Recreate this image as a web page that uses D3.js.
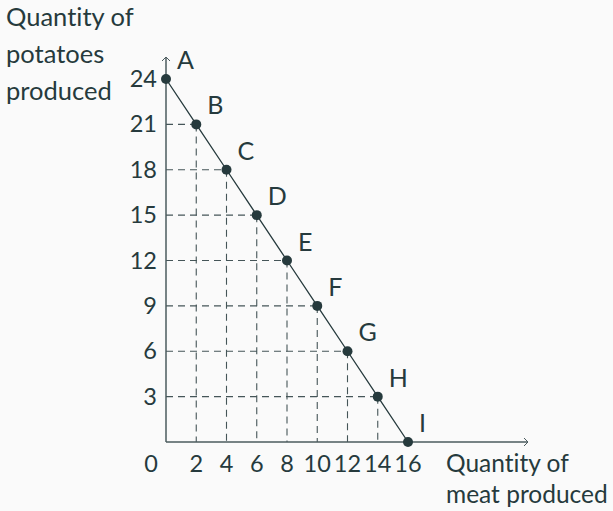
<!DOCTYPE html>
<html>
<head>
<meta charset="utf-8">
<script src="https://cdn.jsdelivr.net/npm/d3@7"></script>
<style>
  html, body { margin: 0; padding: 0; background: #fafafa; }
  svg { display: block; }
  text { font-family: Lato, "DejaVu Sans", sans-serif; fill: #263a3d; font-variant-ligatures: none; }
</style>
</head>
<body>
<div id="graph"></div>
<script>
// production possibilities: meat vs potatoes
const pointNames = ["A", "B", "C", "D", "E", "F", "G", "H", "I"];
const meat = [0, 2, 4, 6, 8, 10, 12, 14, 16];
const potatoes = [24, 21, 18, 15, 12, 9, 6, 3, 0];
const xTicks = [2, 4, 6, 8, 10, 12, 14, 16];
const yTicks = [3, 6, 9, 12, 15, 18, 21, 24];

const W = 613, H = 511;
const ink = "#263a3d";

var svg = d3.select("#graph").append("svg")
    .attr("width", W)
    .attr("height", H);

svg.append("rect").attr("width", W).attr("height", H).attr("fill", "#fafafa");

var x = d3.scaleLinear().domain([0, 16]).range([166, 408]);
var y = d3.scaleLinear().domain([0, 24]).range([442, 79]);

var pts = pointNames.map((name, i) => ({ name: name, m: meat[i], p: potatoes[i] }));

// dashed guides
var guides = pts.filter(d => d.m > 0 && d.p > 0);
svg.selectAll(".hguide")
  .data(guides)
  .enter().append("line")
  .attr("x1", x(0)).attr("x2", d => x(d.m))
  .attr("y1", d => y(d.p)).attr("y2", d => y(d.p))
  .attr("stroke", "#455558")
  .attr("stroke-width", 1.1)
  .attr("stroke-dasharray", "7,5");
svg.selectAll(".vguide")
  .data(guides)
  .enter().append("line")
  .attr("x1", d => x(d.m)).attr("x2", d => x(d.m))
  .attr("y1", d => y(d.p)).attr("y2", y(0))
  .attr("stroke", "#455558")
  .attr("stroke-width", 1.1)
  .attr("stroke-dasharray", "7,5");

// axes with arrow heads
var axisCol = "#4b5b5e";
svg.append("line")
  .attr("x1", x(0)).attr("y1", y(0))
  .attr("x2", 528).attr("y2", y(0))
  .attr("stroke", axisCol).attr("stroke-width", 1.5);
svg.append("path")
  .attr("d", "M" + (528 - 4) + "," + (y(0) - 4) + " L528," + y(0) + " L" + (528 - 4) + "," + (y(0) + 4))
  .attr("fill", "none").attr("stroke", axisCol).attr("stroke-width", 1);
svg.append("line")
  .attr("x1", x(0)).attr("y1", y(0))
  .attr("x2", x(0)).attr("y2", 57)
  .attr("stroke", axisCol).attr("stroke-width", 1.5);
svg.append("path")
  .attr("d", "M" + (x(0) - 4) + ",61 L" + x(0) + ",57 L" + (x(0) + 4) + ",61")
  .attr("fill", "none").attr("stroke", axisCol).attr("stroke-width", 1);

// ppf line
var line = d3.line().x(d => x(d.m)).y(d => y(d.p));
svg.append("path")
  .datum(pts)
  .attr("d", line)
  .attr("fill", "none")
  .attr("stroke", ink)
  .attr("stroke-width", 1.3);

svg.selectAll(".pt")
  .data(pts)
  .enter().append("circle")
  .attr("cx", d => x(d.m))
  .attr("cy", d => y(d.p))
  .attr("r", 5)
  .attr("fill", ink);

svg.selectAll(".ptlabel")
  .data(pts)
  .enter().append("text")
  .attr("x", d => x(d.m) + 11)
  .attr("y", d => y(d.p) - 10)
  .attr("font-size", "25px")
  .text(d => d.name);

// tick labels
svg.selectAll(".ylab")
  .data(yTicks)
  .enter().append("text")
  .attr("x", 157)
  .attr("y", d => y(d) + 8)
  .attr("text-anchor", "end")
  .attr("font-size", "23.5px")
  .text(d => d);

svg.selectAll(".xlab")
  .data(xTicks)
  .enter().append("text")
  .attr("x", d => x(d))
  .attr("y", 472)
  .attr("text-anchor", "middle")
  .attr("font-size", "23.5px")
  .text(d => d);

svg.append("text")
  .attr("x", 151).attr("y", 472)
  .attr("text-anchor", "middle")
  .attr("font-size", "23.5px")
  .text("0");

// axis titles
var yTitle = svg.append("text").attr("font-size", "25.5px");
["Quantity of", "potatoes", "produced"].forEach((t, i) => {
  yTitle.append("tspan").attr("x", 6).attr("y", 26 + i * 37).text(t);
});
var xTitle = svg.append("text").attr("font-size", "24.5px");
["Quantity of", "meat produced"].forEach((t, i) => {
  xTitle.append("tspan").attr("x", 446).attr("y", 472 + i * 31).text(t);
});
</script>
</body>
</html>
